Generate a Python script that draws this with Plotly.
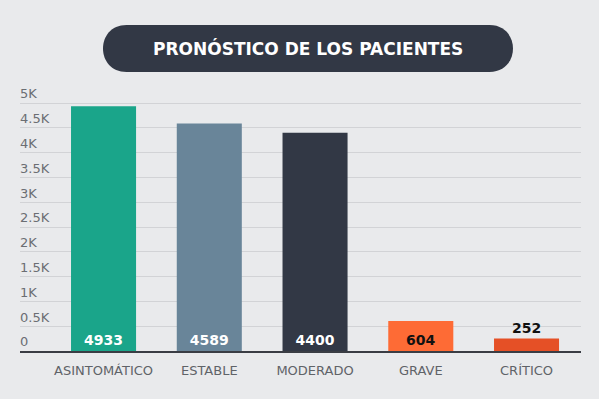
import plotly.graph_objects as go

categories = ["ASINTOMÁTICO", "ESTABLE", "MODERADO", "GRAVE", "CRÍTICO"]
values = [4933, 4589, 4400, 604, 252]
bar_colors = ["#1aa58a", "#698599", "#323845", "#fe6b35", "#e55026"]
label_colors = ["#ffffff", "#ffffff", "#ffffff", "#111111", "#111111"]
label_positions = ["inside", "inside", "inside", "inside", "outside"]
tick_vals = [0, 500, 1000, 1500, 2000, 2500, 3000, 3500, 4000, 4500, 5000]
tick_text = ["0", "0.5K", "1K", "1.5K", "2K", "2.5K", "3K", "3.5K", "4K", "4.5K", "5K"]
title_text = "PRONÓSTICO DE LOS PACIENTES"

W, H = 599, 399
ML, MR, MT, MB = 20, 18, 85, 48
PW, PH = W - ML - MR, H - MT - MB
BG = "#e9eaec"

fig = go.Figure(go.Bar(
    x=categories, y=values,
    marker=dict(color=bar_colors, line=dict(width=0)),
    width=0.615,
    text=[str(v) for v in values],
    textposition=label_positions,
    insidetextanchor="start",
    textfont=dict(color=label_colors, size=14, family="DejaVu Sans", weight="bold"),
    constraintext="none",
    cliponaxis=False,
))

def fx(px):
    return (px - ML) / PW

def fy(py):
    return (H - MB - py) / PH

# rounded title box (pixel positions converted to paper coords)
x0, x1, yt, yb = 103, 513, 25, 72
r = (yb - yt) / 2
k = 4 / 3 * r
path = (
    f"M {fx(x0 + r)} {fy(yt)} L {fx(x1 - r)} {fy(yt)} "
    f"C {fx(x1 - r + k)} {fy(yt)} {fx(x1 - r + k)} {fy(yb)} {fx(x1 - r)} {fy(yb)} "
    f"L {fx(x0 + r)} {fy(yb)} "
    f"C {fx(x0 + r - k)} {fy(yb)} {fx(x0 + r - k)} {fy(yt)} {fx(x0 + r)} {fy(yt)} Z"
)
fig.add_shape(type="path", path=path, xref="paper", yref="paper",
              fillcolor="#323845", line=dict(width=0), layer="above")
fig.add_annotation(text=title_text, xref="paper", yref="paper",
                   x=fx((x0 + x1) / 2), y=fy((yt + yb) / 2),
                   showarrow=False, xanchor="center", yanchor="middle",
                   font=dict(color="white", size=17, family="DejaVu Sans", weight="bold"))

px_per_unit = (351 - 103) / 5000
fig.update_layout(
    width=W, height=H,
    margin=dict(l=ML, r=MR, t=MT, b=MB),
    paper_bgcolor=BG, plot_bgcolor=BG,
    showlegend=False,
    font=dict(family="DejaVu Sans", color="#5f6368"),
    xaxis=dict(
        range=[-0.79, 4.515],
        showline=True, linecolor="#3a3d44", linewidth=2,
        ticks="", showgrid=False,
        tickfont=dict(size=13, color="#5f6368"),
        ticklabelstandoff=6,
        fixedrange=True,
    ),
    yaxis=dict(
        range=[0, PH / px_per_unit],
        tickvals=tick_vals, ticktext=tick_text,
        ticklabelposition="inside top",
        ticklabelstandoff=-3,
        tickfont=dict(size=13, color="#6b6e73"),
        showgrid=True, gridcolor="#d2d3d6", gridwidth=1,
        zeroline=False, showline=False, ticks="",
        fixedrange=True,
    ),
)

fig.write_html("out.html", config={"displayModeBar": False},
               post_script="document.body.style.margin='0';document.body.style.background='%s';" % BG)
